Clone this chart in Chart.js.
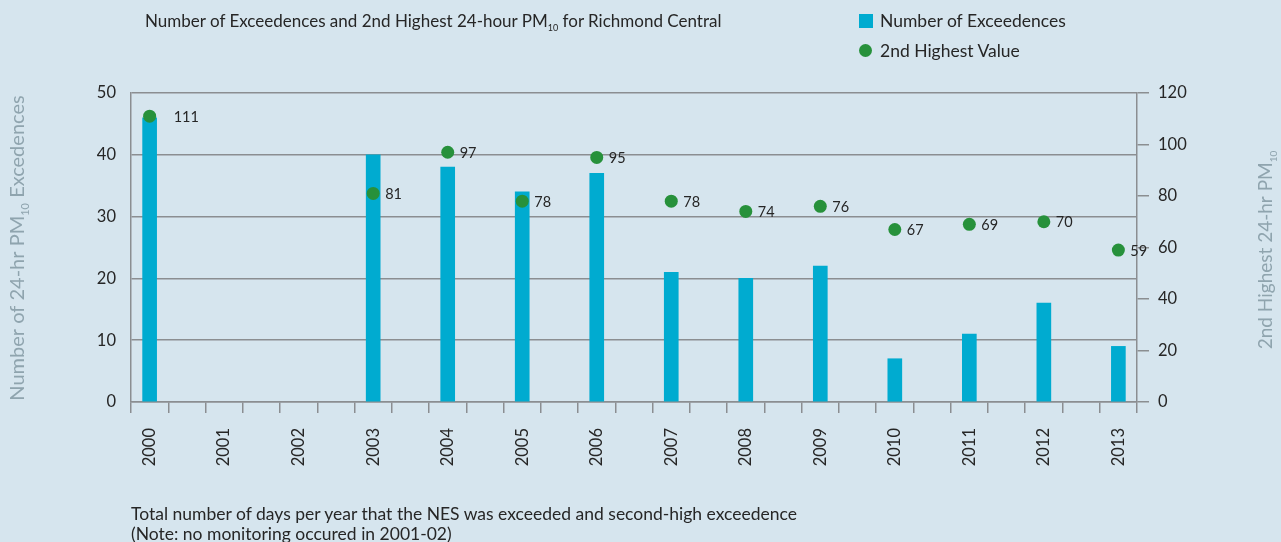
<!DOCTYPE html>
<html>
<head>
<meta charset="utf-8">
<script src="https://cdn.jsdelivr.net/npm/chart.js@4.4.0/dist/chart.umd.min.js"></script>
<style>
    html, body { margin: 0; padding: 0; background: #d6e5ee; }
    body { width: 1281px; height: 542px; position: relative; overflow: hidden; font-family: Lato, sans-serif; color: #262626; }
    #wrap { position: absolute; left: 0; top: 0; width: 1281px; height: 542px; }
    .txt { position: absolute; font-size: 17px; white-space: nowrap; }
    sub { font-size: 9px; vertical-align: -4px; }
    .sq { position: absolute; width: 14px; height: 14px; background: #00abd0; }
    .dot { position: absolute; width: 13px; height: 13px; border-radius: 50%; background: #27913b; }
</style>
</head>
<body>
<div id="wrap"><canvas id="chart" width="1281" height="542"></canvas></div>
<div class="txt" style="left:145px; top:10px;">Number of Exceedences and 2nd Highest 24-hour PM<sub>10</sub> for Richmond Central</div>
<div class="sq" style="left:859px; top:14px;"></div>
<div class="txt" style="left:880px; top:10px; font-size:17.5px;">Number of Exceedences</div>
<div class="dot" style="left:859px; top:44px;"></div>
<div class="txt" style="left:880px; top:40px; font-size:17.5px;">2nd Highest Value</div>
<div class="txt" style="left:131px; top:504px; line-height:20px; font-size:17.5px;">Total number of days per year that the NES was exceeded and second-high exceedence<br>(Note: no monitoring occured in 2001-02)</div>
<script>
// data
const years = ['2000', '2001', '2002', '2003', '2004', '2005', '2006', '2007', '2008', '2009', '2010', '2011', '2012', '2013'];
const exceedences = [46, null, null, 40, 38, 34, 37, 21, 20, 22, 7, 11, 16, 9];
const secondHighest = [111, null, null, 81, 97, 78, 95, 78, 74, 76, 67, 69, 70, 59];
const leftTicks = [0, 10, 20, 30, 40, 50];
const rightTicks = [0, 20, 40, 60, 80, 100, 120];

// every year gets an empty slot after it (except the last one)
const labels = [];
const barData = [];
const dotData = [];
years.forEach((y, i) => {
    labels.push(y);
    barData.push(exceedences[i]);
    dotData.push(secondHighest[i]);
    if (i < years.length - 1) {
        labels.push('');
        barData.push(null);
        dotData.push(null);
    }
});

const gridColor = '#8b8e91';
const textColor = '#262626';
const titleColor = '#8fa4ae';

function drawRich(ctx, parts, x, y, size) {
    const subSize = Math.round(size * 0.55);
    let total = 0;
    parts.forEach(p => {
        ctx.font = (p.sub ? subSize : size) + 'px Lato';
        total += ctx.measureText(p.t).width;
    });
    let cx = x - total / 2;
    parts.forEach(p => {
        ctx.font = (p.sub ? subSize : size) + 'px Lato';
        ctx.fillText(p.t, cx, p.sub ? y + 5 : y);
        cx += ctx.measureText(p.t).width;
    });
}

const extras = {
    id: 'extras',
    afterDatasetsDraw(chart) {
        const ctx = chart.ctx;
        ctx.save();
        // point labels
        const meta = chart.getDatasetMeta(1);
        ctx.fillStyle = textColor;
        ctx.font = '14.5px Lato';
        ctx.textBaseline = 'middle';
        ctx.textAlign = 'left';
        meta.data.forEach((pt, i) => {
            const v = dotData[i];
            if (v === null) return;
            const dx = v > 100 ? 24 : 12;
            ctx.fillText(String(v), pt.x + dx, pt.y + 1);
        });
        // axis titles with subscripts
        ctx.fillStyle = titleColor;
        ctx.textAlign = 'left';
        ctx.textBaseline = 'alphabetic';
        ctx.save();
        ctx.translate(24, 248);
        ctx.rotate(-Math.PI / 2);
        drawRich(ctx, [{t: 'Number of 24-hr PM'}, {t: '10', sub: true}, {t: ' Excedences'}], 0, 0, 20);
        ctx.restore();
        ctx.save();
        ctx.translate(1272, 250);
        ctx.rotate(-Math.PI / 2);
        drawRich(ctx, [{t: '2nd Highest 24-hr PM'}, {t: '10', sub: true}], 0, 0, 19);
        ctx.restore();
        ctx.restore();
    }
};

new Chart(document.getElementById('chart'), {
    data: {
        labels: labels,
        datasets: [
            {
                type: 'bar',
                data: barData,
                backgroundColor: '#00abd0',
                barThickness: 14,
                yAxisID: 'y',
                order: 2
            },
            {
                type: 'scatter',
                data: dotData,
                backgroundColor: '#27913b',
                borderWidth: 0,
                pointRadius: 6.5,
                showLine: false,
                yAxisID: 'y2',
                order: 1
            }
        ]
    },
    options: {
        responsive: false,
        animation: false,
        layout: { padding: { top: 93, left: 0, right: 0, bottom: 0 } },
        plugins: { legend: { display: false }, tooltip: { enabled: false } },
        scales: {
            x: {
                type: 'category',
                offset: true,
                afterFit: s => { s.height = 140; },
                grid: {
                    offset: true,
                    drawOnChartArea: false,
                    tickLength: 11,
                    color: gridColor,
                    lineWidth: 1.5
                },
                border: { color: gridColor, width: 1.5 },
                ticks: {
                    autoSkip: false,
                    minRotation: 90,
                    maxRotation: 90,
                    padding: 15,
                    color: textColor,
                    font: { family: 'Lato', size: 16.5 }
                }
            },
            y: {
                position: 'left',
                min: 0,
                max: 50,
                afterFit: s => { s.width = 131; },
                afterBuildTicks: s => { s.ticks = leftTicks.map(v => ({ value: v })); },
                grid: { color: gridColor, lineWidth: 1.5, drawTicks: false },
                border: { color: gridColor, width: 1.5 },
                ticks: {
                    padding: 15,
                    color: textColor,
                    font: { family: 'Lato', size: 16.5 }
                }
            },
            y2: {
                position: 'right',
                min: 0,
                max: 120,
                afterFit: s => { s.width = 144; },
                afterBuildTicks: s => { s.ticks = rightTicks.map(v => ({ value: v })); },
                grid: { drawOnChartArea: false, tickLength: 12, color: gridColor, lineWidth: 1.5 },
                border: { color: gridColor, width: 1.5 },
                ticks: {
                    padding: 9,
                    color: textColor,
                    font: { family: 'Lato', size: 16.5 }
                }
            }
        }
    },
    plugins: [extras]
});
</script>
</body>
</html>
